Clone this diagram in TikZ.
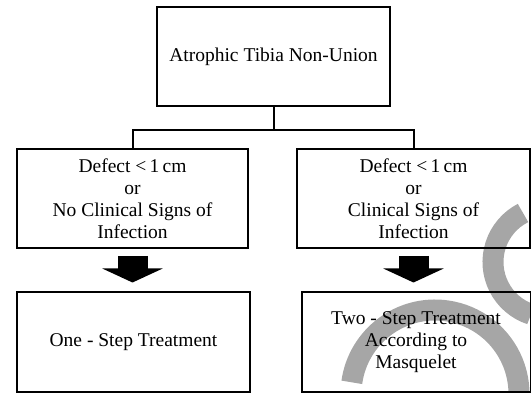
\documentclass[tikz,border=0pt]{standalone}
\usepackage{fontspec}
\setmainfont{Liberation Serif}
\usetikzlibrary{arrows.meta}
\begin{document}
\begin{tikzpicture}[x=1pt, y=-1pt,
    box/.style={draw, line width=2pt, minimum height=99pt, align=center, inner sep=0pt,
      font=\fontsize{19.5}{22}\selectfont},
    link/.style={line width=2pt},
    bigarrow/.style={line width=30pt, -{Triangle[width=60pt, length=14pt]}},
    wmark/.style={line width=21pt, black!35}]
    \useasboundingbox (0,0) rectangle (531,393);
    % watermark
    \draw[wmark] (548,262) ++(252:55pt) arc[start angle=252, end angle=117, radius=55pt];
    \draw[wmark] (435,394) ++(172:84pt) arc[start angle=172, end angle=-25, radius=84pt];
    \node[box, minimum width=233pt] (top) at (273.5,57) {Atrophic Tibia Non-Union};
    \node[box, minimum width=231pt] (small) at (132.5,198.5) {Defect <\,1\,cm\\or\\No Clinical Signs of\\Infection};
    \node[box, minimum width=233pt] (big) at (413.5,198.5) {Defect <\,1\,cm\\or\\Clinical Signs of\\Infection};
    \node[box, minimum width=233pt] (one) at (133.5,342) {One - Step Treatment};
    \node[box, minimum width=229pt] (two) at (416,342) {Two - Step Treatment\\According to\\Masquelet};
    \draw[link] (top.south) -- ++(0,23) coordinate (split);
    \foreach \n in {small,big} \draw[link] (split) -| (\n.north);
    \draw[bigarrow] ([yshift=-7pt]small.south) -- ([yshift=9pt]small.south |- one.north);
    \draw[bigarrow] ([yshift=-7pt]big.south) -- ([yshift=9pt]big.south |- two.north);
\end{tikzpicture}
\end{document}
